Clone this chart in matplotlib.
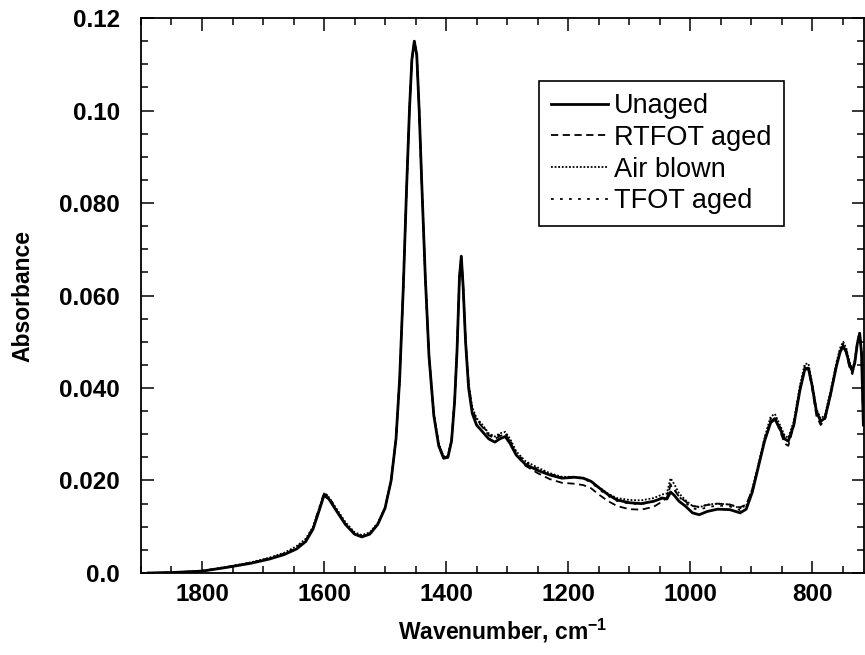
import matplotlib
matplotlib.use("Agg")
import matplotlib.pyplot as plt
from matplotlib.ticker import MultipleLocator

plt.rcParams['font.family'] = ['Liberation Sans', 'DejaVu Sans']
plt.rcParams['mathtext.fontset'] = 'custom'
plt.rcParams['mathtext.rm'] = 'Liberation Sans:bold'
plt.rcParams['mathtext.it'] = 'Liberation Sans:bold'
plt.rcParams['mathtext.bf'] = 'Liberation Sans:bold'

# wavenumber grid (cm-1)
wavenumber = [1888, 1850, 1800, 1760, 1720, 1690, 1665, 1645, 1630, 1618,
              1608, 1600, 1592, 1580, 1565, 1550, 1538, 1525, 1512, 1500,
              1490, 1482, 1476, 1470, 1465, 1460, 1456, 1452, 1448, 1444,
              1440, 1434, 1428, 1420, 1412, 1404, 1397, 1391, 1386, 1382,
              1378, 1375, 1372, 1368, 1363, 1357, 1350, 1340, 1330, 1320,
              1312, 1303, 1295, 1285, 1270, 1250, 1230, 1210, 1190, 1175,
              1162, 1150, 1135, 1120, 1100, 1080, 1060, 1045, 1038, 1032,
              1026, 1018, 1008, 996, 985, 972, 955, 935, 918, 908,
              898, 888, 878, 868, 861, 852, 845, 839, 830, 820,
              812, 806, 800, 793, 786, 779, 770, 760, 754, 749,
              744, 739, 734, 730, 726, 722, 719, 716]

unaged = [.0000, .0001, .0004, .0012, .0021, .0030, .0040, .0052, .0068, .0095,
          .0135, .0168, .0160, .0135, .0105, .0084, .0078, .0084, .0105, .0140,
          .0200, .0290, .0420, .0620, .0820, .1000, .1110, .1150, .1120, .1000,
          .0850, .0640, .0470, .0340, .0275, .0248, .0250, .0285, .0370, .0480,
          .0640, .0685, .0620, .0500, .0400, .0345, .0320, .0305, .0290, .0283,
          .0290, .0295, .0280, .0255, .0235, .0222, .0212, .0205, .0207, .0205,
          .0198, .0185, .0170, .0158, .0152, .0150, .0155, .0162, .0160, .0175,
          .0168, .0155, .0145, .0130, .0126, .0133, .0138, .0137, .0130, .0138,
          .0175, .0230, .0285, .0325, .0333, .0310, .0290, .0285, .0320, .0395,
          .0440, .0442, .0405, .0350, .0328, .0335, .0385, .0448, .0478, .0490,
          .0478, .0452, .0436, .0455, .0495, .0518, .0475, .0320]

rtfot = [.0000, .0001, .0004, .0012, .0022, .0031, .0041, .0054, .0070, .0098,
         .0138, .0172, .0163, .0137, .0106, .0085, .0079, .0085, .0106, .0141,
         .0200, .0290, .0420, .0620, .0820, .1000, .1110, .1150, .1120, .1000,
         .0850, .0640, .0470, .0342, .0278, .0250, .0252, .0287, .0372, .0482,
         .0642, .0685, .0620, .0502, .0405, .0352, .0330, .0315, .0298, .0290,
         .0296, .0300, .0284, .0256, .0232, .0216, .0203, .0195, .0193, .0190,
         .0183, .0170, .0156, .0145, .0138, .0137, .0143, .0155, .0163, .0190,
         .0180, .0165, .0155, .0145, .0143, .0147, .0150, .0148, .0142, .0148,
         .0180, .0232, .0285, .0328, .0335, .0305, .0280, .0275, .0318, .0397,
         .0443, .0444, .0400, .0340, .0320, .0331, .0383, .0450, .0481, .0493,
         .0475, .0446, .0430, .0453, .0495, .0518, .0473, .0318]

air_blown = [.0000, .0001, .0005, .0013, .0023, .0033, .0044, .0058, .0074, .0100,
             .0140, .0170, .0164, .0140, .0110, .0088, .0082, .0088, .0108, .0142,
             .0200, .0290, .0420, .0620, .0820, .1000, .1110, .1150, .1120, .1000,
             .0850, .0640, .0472, .0344, .0280, .0252, .0254, .0288, .0372, .0482,
             .0642, .0685, .0622, .0505, .0410, .0358, .0335, .0320, .0302, .0295,
             .0302, .0305, .0290, .0263, .0242, .0228, .0216, .0208, .0208, .0205,
             .0198, .0186, .0172, .0162, .0158, .0157, .0162, .0170, .0172, .0205,
             .0192, .0172, .0158, .0145, .0142, .0148, .0150, .0148, .0140, .0146,
             .0182, .0236, .0292, .0338, .0344, .0318, .0297, .0292, .0328, .0405,
             .0452, .0453, .0410, .0355, .0334, .0341, .0392, .0456, .0487, .0500,
             .0486, .0458, .0441, .0460, .0500, .0522, .0478, .0322]

tfot = [.0000, .0001, .0004, .0013, .0022, .0032, .0042, .0056, .0072, .0099,
        .0140, .0174, .0165, .0138, .0107, .0086, .0080, .0086, .0106, .0141,
        .0200, .0290, .0420, .0620, .0820, .1000, .1110, .1150, .1120, .1000,
        .0850, .0640, .0471, .0342, .0278, .0250, .0252, .0287, .0372, .0482,
        .0642, .0685, .0621, .0503, .0406, .0354, .0332, .0318, .0300, .0292,
        .0299, .0302, .0287, .0260, .0240, .0225, .0214, .0207, .0207, .0204,
        .0196, .0182, .0167, .0156, .0150, .0149, .0155, .0164, .0166, .0192,
        .0182, .0165, .0152, .0140, .0137, .0142, .0146, .0144, .0136, .0143,
        .0178, .0233, .0290, .0333, .0340, .0314, .0293, .0288, .0324, .0400,
        .0447, .0448, .0406, .0346, .0326, .0337, .0388, .0452, .0484, .0496,
        .0482, .0455, .0438, .0457, .0497, .0520, .0476, .0320]

ytick_vals = [0.0, 0.02, 0.04, 0.06, 0.08, 0.10, 0.12]
ytick_labels = ['0.0', '0.020', '0.040', '0.060', '0.080', '0.10', '0.12']

fig = plt.figure(figsize=(8.65, 6.55), dpi=100)
ax = fig.add_axes([0.163, 0.1252, 0.8358, 0.8473])

ax.plot(wavenumber, unaged, color='black', lw=2.0, ls='-', label='Unaged')
ax.plot(wavenumber, rtfot, color='black', lw=1.3, ls=(0, (4, 2.5)), label='RTFOT aged')
ax.plot(wavenumber, air_blown, color='black', lw=1.3, ls=(0, (1, 1)), label='Air blown')
ax.plot(wavenumber, tfot, color='black', lw=1.3, ls=(0, (1.5, 3.5)), label='TFOT aged')

ax.set_xlim(1900, 715)
ax.set_ylim(0, 0.12)
ax.xaxis.set_major_locator(MultipleLocator(200))
ax.xaxis.set_minor_locator(MultipleLocator(50))
ax.set_yticks(ytick_vals)
ax.set_yticklabels(ytick_labels)
ax.yaxis.set_minor_locator(MultipleLocator(0.005))

ax.tick_params(which='both', direction='in', top=True, right=True, width=1.1)
ax.tick_params(which='major', length=9, labelsize=17.5)
ax.tick_params(axis='x', which='major', pad=7)
ax.tick_params(axis='y', which='major', pad=15)
ax.tick_params(which='minor', length=5)
for lab in ax.get_xticklabels() + ax.get_yticklabels():
    lab.set_fontweight('bold')
for s in ax.spines.values():
    s.set_linewidth(1.3)

ax.set_xlabel('Wavenumber, cm$^{-1}$', fontsize=16.5, fontweight='bold', labelpad=8)
ax.set_ylabel('Absorbance', fontsize=16.5, fontweight='bold', labelpad=18)

leg = ax.legend(loc='upper left', bbox_to_anchor=(0.5505, 0.8865), fontsize=19.5,
                frameon=True, fancybox=False, edgecolor='black', framealpha=1,
                handlelength=2.1, handletextpad=0.22, labelspacing=0.21,
                borderpad=0.45, borderaxespad=0)
leg.get_frame().set_linewidth(1.2)

fig.savefig('out.png', dpi=100)
